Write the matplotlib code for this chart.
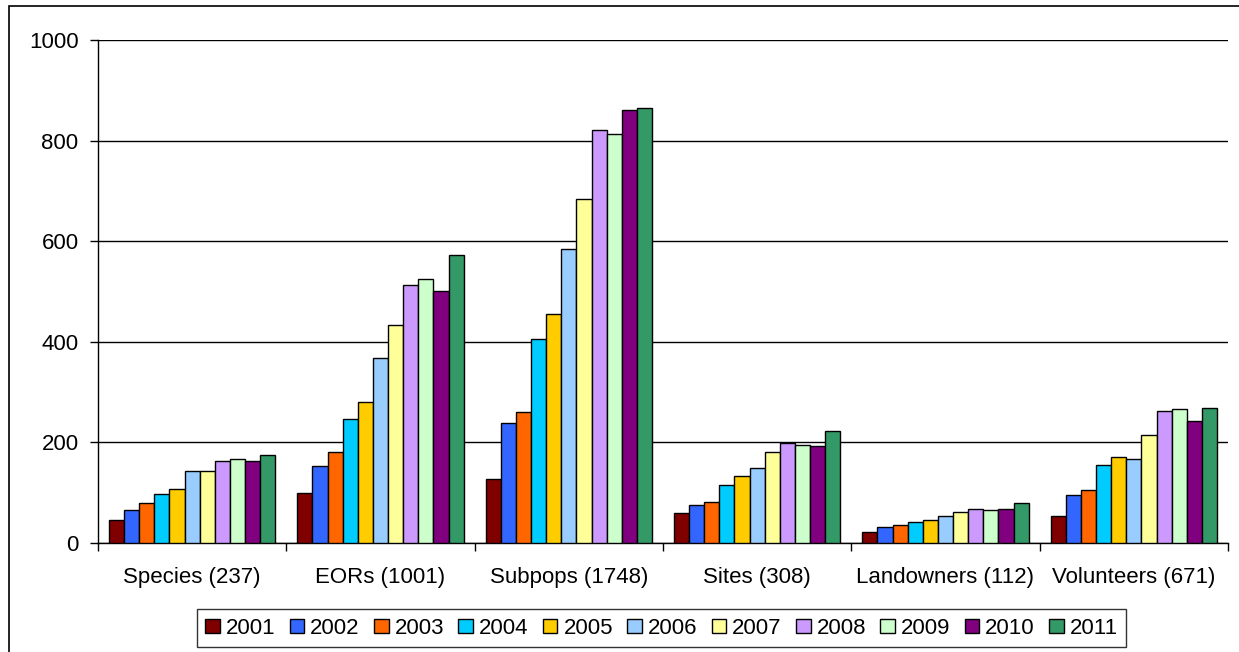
import numpy as np
import matplotlib
matplotlib.use("Agg")
import matplotlib.pyplot as plt
from matplotlib.patches import Rectangle

plt.rcParams['font.family'] = ['Liberation Sans', 'DejaVu Sans']

categories = ["Species (237)", "EORs (1001)", "Subpops (1748)",
              "Sites (308)", "Landowners (112)", "Volunteers (671)"]
years = ["2001", "2002", "2003", "2004", "2005", "2006",
         "2007", "2008", "2009", "2010", "2011"]

# counts per category, one list per year
v2001 = [45, 100, 128, 60, 22, 54]
v2002 = [65, 153, 238, 76, 31, 96]
v2003 = [80, 181, 261, 82, 36, 105]
v2004 = [97, 247, 405, 116, 42, 156]
v2005 = [107, 281, 455, 133, 45, 170]
v2006 = [144, 368, 584, 150, 54, 167]
v2007 = [144, 433, 683, 181, 62, 215]
v2008 = [164, 513, 821, 198, 68, 263]
v2009 = [167, 524, 813, 195, 65, 266]
v2010 = [164, 501, 861, 192, 68, 243]
v2011 = [175, 572, 864, 223, 79, 269]
series = [v2001, v2002, v2003, v2004, v2005, v2006,
          v2007, v2008, v2009, v2010, v2011]

colors = ["#800000", "#3366FF", "#FF6600", "#00CCFF", "#FFCC00", "#99CCFF",
          "#FFFF99", "#CC99FF", "#CCFFCC", "#800080", "#339966"]

FS = 16

fig = plt.figure(figsize=(12.39, 6.52), dpi=100)
ax = fig.add_axes([98 / 1239, 1 - 543 / 652, 1130 / 1239, 503 / 652])

n = len(series)
group_w = 0.883
bw = group_w / n
x = np.arange(len(categories))
for i, (vals, col, yr) in enumerate(zip(series, colors, years)):
    offs = -group_w / 2 + bw * (i + 0.5)
    ax.bar(x + offs, vals, width=bw, color=col, edgecolor="black",
           linewidth=1.0, label=yr, zorder=3)

ax.set_xlim(-0.5, len(categories) - 0.5)
ax.set_ylim(0, 1000)
ax.set_yticks(np.arange(0, 1001, 200))
ax.yaxis.grid(True, color="black", linewidth=1.0, zorder=0)
ax.set_axisbelow(True)

# category labels centred, ticks on the boundaries between groups
ax.set_xticks(np.arange(-0.5, len(categories), 1.0))
ax.set_xticklabels([])
ax.set_xticks(x, minor=True)
ax.set_xticklabels(categories, minor=True, fontsize=FS)
ax.tick_params(axis="x", which="minor", length=0, pad=17)
ax.tick_params(axis="x", which="major", length=6, width=1, direction="out", color="black")
ax.tick_params(axis="y", length=6, width=1, direction="out", labelsize=FS, pad=8)

for s in ("top", "right"):
    ax.spines[s].set_visible(False)
ax.spines["left"].set_linewidth(1.0)
ax.spines["bottom"].set_linewidth(1.0)

leg = fig.legend(loc="center", bbox_to_anchor=(661.5 / 1239, 1 - 628 / 652),
                 ncol=n, fontsize=FS, frameon=True, fancybox=False,
                 edgecolor="black", handlelength=0.66, handleheight=0.6,
                 handletextpad=0.27, columnspacing=0.64, borderpad=0.38,
                 borderaxespad=0)
leg.get_frame().set_linewidth(1.0)

# chart area border
fig.patches.append(Rectangle((8.5 / 1239, -0.2), 1.2, 1.2 - 5.5 / 652,
                             transform=fig.transFigure, fill=False,
                             edgecolor="black", linewidth=1.2))

fig.savefig("out.png", dpi=100)
